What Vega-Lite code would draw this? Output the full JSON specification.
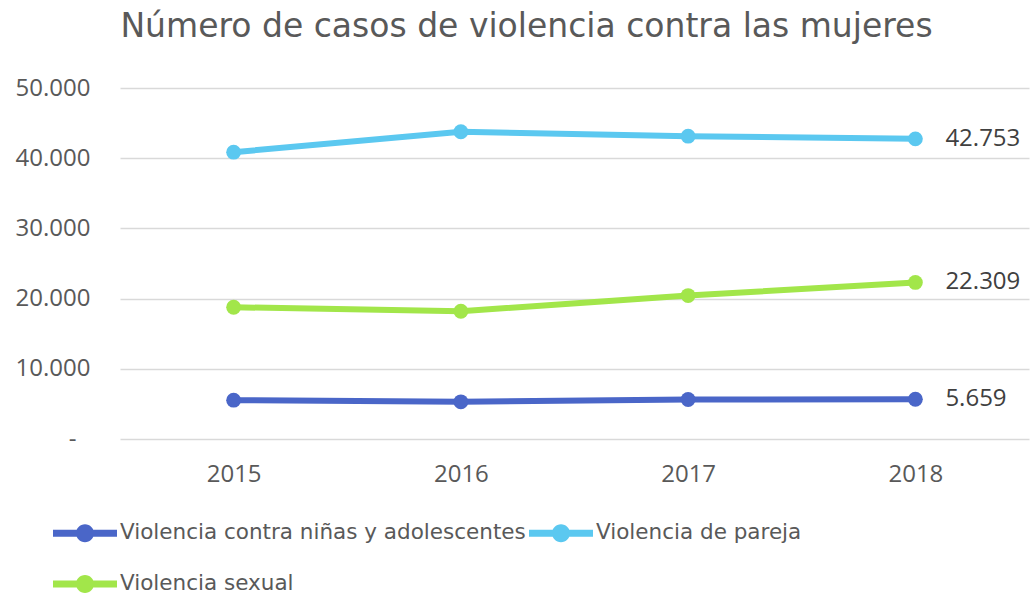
{
  "$schema": "https://vega.github.io/schema/vega-lite/v6.json",
  "width": 909,
  "height": 351,
  "autosize": {"type": "none"},
  "padding": {"left": 120, "top": 88, "right": 1, "bottom": 158},
  "background": "white",
  "title": {
    "text": "Número de casos de violencia contra las mujeres",
    "anchor": "middle",
    "frame": "group",
    "dx": -48,
    "offset": 6,
    "baseline": "alphabetic",
    "font": "DejaVu Sans",
    "fontSize": 33,
    "fontWeight": "normal",
    "color": "#595959"
  },
  "config": {
    "locale": {"number": {"decimal": ",", "thousands": ".", "grouping": [3], "currency": ["", " €"]}},
    "view": {"stroke": null},
    "font": "Open Sans"
  },
  "data": {
    "values": [
      {"serie": "Violencia contra niñas y adolescentes", "year": "2015", "casos": 5530},
      {"serie": "Violencia contra niñas y adolescentes", "year": "2016", "casos": 5290},
      {"serie": "Violencia contra niñas y adolescentes", "year": "2017", "casos": 5630},
      {"serie": "Violencia contra niñas y adolescentes", "year": "2018", "casos": 5659},
      {"serie": "Violencia de pareja", "year": "2015", "casos": 40860},
      {"serie": "Violencia de pareja", "year": "2016", "casos": 43770},
      {"serie": "Violencia de pareja", "year": "2017", "casos": 43140},
      {"serie": "Violencia de pareja", "year": "2018", "casos": 42753},
      {"serie": "Violencia sexual", "year": "2015", "casos": 18770},
      {"serie": "Violencia sexual", "year": "2016", "casos": 18200},
      {"serie": "Violencia sexual", "year": "2017", "casos": 20430},
      {"serie": "Violencia sexual", "year": "2018", "casos": 22309}
    ]
  },
  "encoding": {
    "x": {
      "field": "year",
      "type": "ordinal",
      "scale": {"type": "point", "padding": 0.5},
      "axis": {
        "title": null,
        "domain": false,
        "ticks": false,
        "labelAngle": 0,
        "labelPadding": 23,
        "labelFont": "Open Sans",
        "labelFontSize": 24,
        "labelColor": "#595959"
      }
    },
    "y": {
      "field": "casos",
      "type": "quantitative",
      "scale": {"domain": [0, 50000], "nice": false},
      "axis": {
        "title": null,
        "values": [0, 10000, 20000, 30000, 40000, 50000],
        "labelExpr": "datum.value == 0 ? '-' : replace(format(datum.value, ','), ',', '.')",
        "domain": false,
        "ticks": false,
        "grid": true,
        "gridColor": "#d9d9d9",
        "gridWidth": 1.3,
        "labelPadding": {"condition": {"test": "datum.value == 0", "value": 44}, "value": 30},
        "labelFont": "Open Sans",
        "labelFontSize": 24,
        "labelColor": "#595959"
      }
    },
    "color": {
      "field": "serie",
      "type": "nominal",
      "scale": {
        "domain": ["Violencia contra niñas y adolescentes", "Violencia de pareja", "Violencia sexual"],
        "range": ["#4A66C8", "#5BC8F0", "#A2E64A"]
      },
      "legend": {
        "title": null,
        "orient": "none",
        "legendX": -55,
        "legendY": 425,
        "columns": 2,
        "direction": "horizontal",
        "columnPadding": 3,
        "rowPadding": 20,
        "padding": 0,
        "symbolType": "M-1.6,-0.175H1.6V0.175H-1.6Z M-0.45,0A0.45,0.45,0,1,1,0.45,0A0.45,0.45,0,1,1,-0.45,0Z",
        "symbolSize": 1600,
        "symbolStrokeWidth": 0,
        "labelOffset": 15,
        "labelLimit": 0,
        "labelFont": "DejaVu Sans",
        "labelFontSize": 21.5,
        "labelColor": "#595959",
        "encode": {
          "symbols": {"update": {"fill": {"scale": "color", "field": "value"}, "stroke": {"value": "transparent"}, "opacity": {"value": 1}}}
        }
      }
    }
  },
  "layer": [
    {
      "mark": {"type": "line", "strokeWidth": 6, "point": {"filled": true, "size": 220, "opacity": 1}}
    },
    {
      "transform": [{"filter": "datum.year == '2018'"}],
      "mark": {"type": "text", "align": "left", "baseline": "middle", "dx": 30, "fontSize": 24, "font": "Open Sans", "color": "#404040"},
      "encoding": {
        "text": {"field": "casos", "type": "quantitative", "format": ","},
        "color": {"value": "#404040"}
      }
    }
  ]
}
